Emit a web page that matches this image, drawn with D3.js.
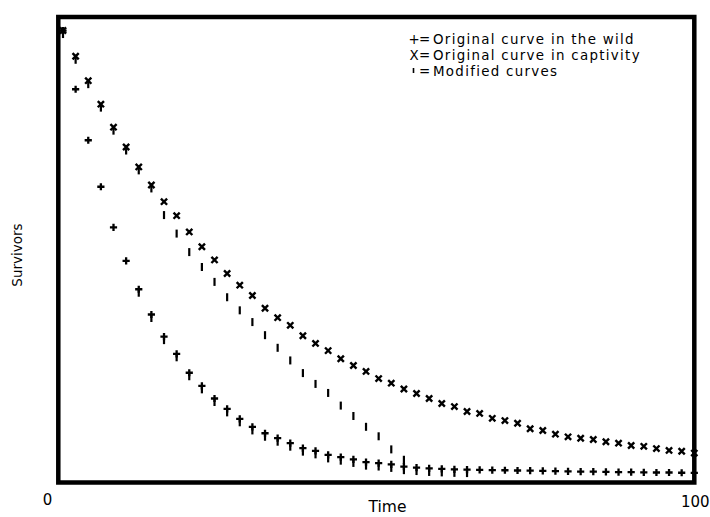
<!DOCTYPE html>
<html>
<head>
<meta charset="utf-8">
<script src="https://cdn.jsdelivr.net/npm/d3@7"></script>
<style>
  html, body { margin: 0; padding: 0; background: #fff; }
  svg { display: block; }
  text { font-family: "DejaVu Sans", "Liberation Sans", sans-serif; fill: #000; }
</style>
</head>
<body>
<svg id="chart" width="710" height="517"></svg>
<script>
// Survival over time: sampled every 2 time units
const time = [0, 2, 4, 6, 8, 10, 12, 14, 16, 18, 20, 22, 24, 26, 28, 30, 32, 34, 36, 38,
  40, 42, 44, 46, 48, 50, 52, 54, 56, 58, 60, 62, 64, 66, 68, 70, 72, 74, 76, 78,
  80, 82, 84, 86, 88, 90, 92, 94, 96, 98, 100];

// Original curve in the wild (+)
const wild = [1000, 870, 757, 654, 564, 490, 427, 371, 322, 284,
  242, 213, 185, 162, 140, 122, 108, 97, 86, 75,
  69, 60, 55, 50, 44, 42, 39, 34, 32, 30,
  29, 28, 27.5, 27, 26.5, 26, 25.5, 25, 24.5, 24,
  23.5, 23, 23, 22.5, 22, 22, 21.5, 21, 21, 20.5, 20];

// Original curve in captivity (X)
const captivity = [1000, 943, 889, 837, 786, 742, 698, 658, 621, 590,
  554, 521, 492, 462, 436, 413, 385, 364, 347, 324,
  307, 291, 273, 258, 245, 229, 219, 206, 196, 185,
  174, 167, 156, 152, 141, 136, 130, 118, 114, 106,
  100, 97, 94, 89, 86, 81, 79, 74, 70, 68, 64];

// Modified curves (|)
const modifiedATime = [0, 2, 4, 6, 8, 10, 12, 14, 16, 18, 20, 22, 24, 26, 28, 30,
  32, 34, 36, 38, 40, 42, 44, 46, 48, 50, 52, 54];
const modifiedA = [1000, 943, 889, 837, 786, 742, 698, 658, 599, 558, 517, 484, 451, 417,
  388, 362, 333, 305, 277, 249, 225, 205, 177, 154, 130, 109, 80, 57];
const modifiedBTime = [12, 14, 16, 18, 20, 22, 24, 26, 28, 30, 32, 34, 36, 38, 40,
  42, 44, 46, 48, 50, 52, 54, 56, 58, 60, 62, 64];
const modifiedB = [427, 371, 322, 284, 242, 213, 185, 162, 140, 122, 108, 97, 86, 75, 69,
  60, 55, 50, 44, 42, 39, 34, 32, 30, 29, 28, 27.5];

const legendItems = [
  { symbol: "+", label: "Original curve in the wild" },
  { symbol: "X", label: "Original curve in captivity" },
  { symbol: null, label: "Modified curves" }
];

const svg = d3.select("#chart");

const frame = { left: 58.3, right: 694.3, top: 17, bottom: 482.5 };

const x = d3.scaleLinear().domain([0, 100]).range([63, 694.3]);
const y = d3.scaleLinear().domain([0, 1030]).range([482, 17]);

// Plot frame
svg.append("rect")
  .attr("x", frame.left).attr("y", frame.top)
  .attr("width", frame.right - frame.left)
  .attr("height", frame.bottom - frame.top)
  .attr("fill", "none")
  .attr("stroke", "#000")
  .attr("stroke-width", 4.5);

const marks = svg.append("g").attr("stroke", "#000").attr("fill", "none");

// X markers
const xs = 3.1;
marks.append("g").attr("stroke-width", 2.4)
  .selectAll("path").data(time.map((t, i) => [t, captivity[i]]))
  .join("path")
  .attr("d", d => {
    const cx = x(d[0]), cy = y(d[1]);
    return `M${cx - xs},${cy - xs}L${cx + xs},${cy + xs}M${cx - xs},${cy + xs}L${cx + xs},${cy - xs}`;
  });

// + markers
const ps = 3.6;
marks.append("g").attr("stroke-width", 2.3)
  .selectAll("path").data(time.map((t, i) => [t, wild[i]]))
  .join("path")
  .attr("d", d => {
    const cx = x(d[0]), cy = y(d[1]);
    return `M${cx - ps},${cy}L${cx + ps},${cy}M${cx},${cy - ps}L${cx},${cy + ps}`;
  });

// | markers (glyph hangs below its reference point)
const tickMarks = modifiedATime.map((t, i) => [t, modifiedA[i]])
  .concat(modifiedBTime.map((t, i) => [t, modifiedB[i]]));
marks.append("g").attr("stroke-width", 2.2)
  .selectAll("path").data(tickMarks)
  .join("path")
  .attr("d", d => {
    const cx = x(d[0]), cy = y(d[1]);
    return `M${cx},${cy - 0.5}L${cx},${cy + 7.5}`;
  });

// Legend: symbol, "=" and label as chunks of one text line
const legend = svg.append("g").attr("font-size", 13.4);
legendItems.forEach((item, i) => {
  const base = 44.3 + i * 15.6;
  const line = legend.append("text").attr("y", base);
  if (item.symbol === null) {
    legend.append("line")
      .attr("x1", 413.5).attr("x2", 413.5)
      .attr("y1", base - 7.5).attr("y2", base - 2.5)
      .attr("stroke", "#000").attr("stroke-width", 1.6);
  } else {
    line.append("tspan").attr("x", 414).attr("text-anchor", "middle").text(item.symbol);
  }
  line.append("tspan").attr("x", 424.5).attr("text-anchor", "middle").text("=");
  line.append("tspan").attr("x", 433).attr("letter-spacing", 1.3).text(item.label);
});

// Axis labels
svg.append("text").attr("x", 47.5).attr("y", 505)
  .attr("text-anchor", "middle").attr("font-size", 15).text(x.domain()[0]);
svg.append("text").attr("x", 681).attr("y", 507)
  .attr("font-size", 15).text(x.domain()[1]);
svg.append("text").attr("x", 387.5).attr("y", 512)
  .attr("text-anchor", "middle").attr("font-size", 15.5).text("Time");
svg.append("text")
  .attr("transform", "translate(17,255) rotate(-90)")
  .attr("text-anchor", "middle")
  .attr("dominant-baseline", "central")
  .attr("font-size", 13.5)
  .text("Survivors");
</script>
</body>
</html>
